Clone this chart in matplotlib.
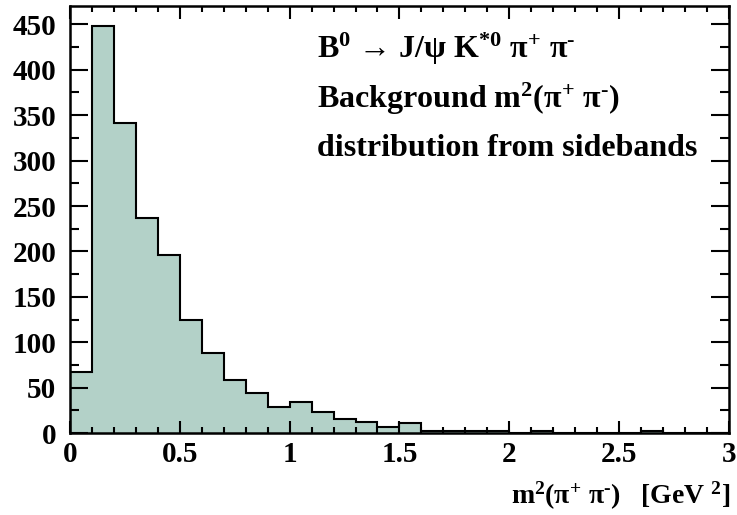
import numpy as np
import matplotlib
matplotlib.use("Agg")
import matplotlib.pyplot as plt
from matplotlib.ticker import MultipleLocator

# Histogram data (bins of 0.1 GeV^2 from 0 to 3)
bin_edges = np.round(np.arange(0, 3.01, 0.1), 2)
counts = [67, 448, 341, 237, 196, 124, 88, 58, 44, 29,
          34, 23, 16, 12, 7, 11, 2, 2, 2, 2,
          0, 2, 0, 0, 0, 0, 2, 0, 0, 0]

x_ticks = [0, 0.5, 1, 1.5, 2, 2.5, 3]
x_tick_labels = ["0", "0.5", "1", "1.5", "2", "2.5", "3"]
y_ticks = [0, 50, 100, 150, 200, 250, 300, 350, 400, 450]

plt.rcParams["font.family"] = ["Liberation Serif", "DejaVu Serif"]
plt.rcParams["font.weight"] = "bold"
plt.rcParams["mathtext.fontset"] = "custom"
plt.rcParams["mathtext.rm"] = "Liberation Serif:bold"
plt.rcParams["mathtext.it"] = "Liberation Serif:bold"
plt.rcParams["mathtext.bf"] = "Liberation Serif:bold"

fig = plt.figure(figsize=(7.37, 5.15), dpi=100)
ax = fig.add_axes([0.095, 0.159, 0.894, 0.829])

fill_color = "#b3d1c8"
ax.stairs(counts, bin_edges, fill=True, color=fill_color, baseline=0)
ax.stairs(counts, bin_edges, color="black", linewidth=1.5, baseline=0)

ax.set_xlim(0, 3)
ax.set_ylim(0, 470)

ax.set_xticks(x_ticks)
ax.set_xticklabels(x_tick_labels)
ax.set_yticks(y_ticks)
ax.xaxis.set_minor_locator(MultipleLocator(0.1))
ax.yaxis.set_minor_locator(MultipleLocator(25))

ax.tick_params(axis="x", which="major", direction="in", length=9, width=1.5,
               top=True, labelsize=21, pad=6)
ax.tick_params(axis="x", which="minor", direction="in", length=4.5, width=1.5, top=True)
ax.tick_params(axis="y", which="major", direction="in", length=13, width=1.5,
               right=True, labelsize=21, pad=10)
ax.tick_params(axis="y", which="minor", direction="in", length=6.5, width=1.5, right=True)
for spine in ax.spines.values():
    spine.set_linewidth(1.8)

for lbl in ax.get_xticklabels() + ax.get_yticklabels():
    lbl.set_fontweight("bold")

hy = "\u2010"  # short hyphen like in the original
ax.text(1.002, -0.165, r"m$^{2}$(π$^{+}$ π$^{" + hy + r"}$)   [GeV $^{2}$]",
        transform=ax.transAxes, ha="right", va="baseline", fontsize=20, fontweight="bold")

ax.text(0.375, 0.878, r"B$^{0}$ → J/ψ K$^{*0}$ π$^{+}$ π$^{" + hy + r"}$",
        transform=ax.transAxes, ha="left", va="baseline", fontsize=23, fontweight="bold")
ax.text(0.375, 0.761, r"Background m$^{2}$(π$^{+}$ π$^{" + hy + r"}$)",
        transform=ax.transAxes, ha="left", va="baseline", fontsize=23, fontweight="bold")
ax.text(0.375, 0.649, "distribution from sidebands", transform=ax.transAxes,
        ha="left", va="baseline", fontsize=23, fontweight="bold")

plt.savefig("out.png", dpi=100)
plt.close()
